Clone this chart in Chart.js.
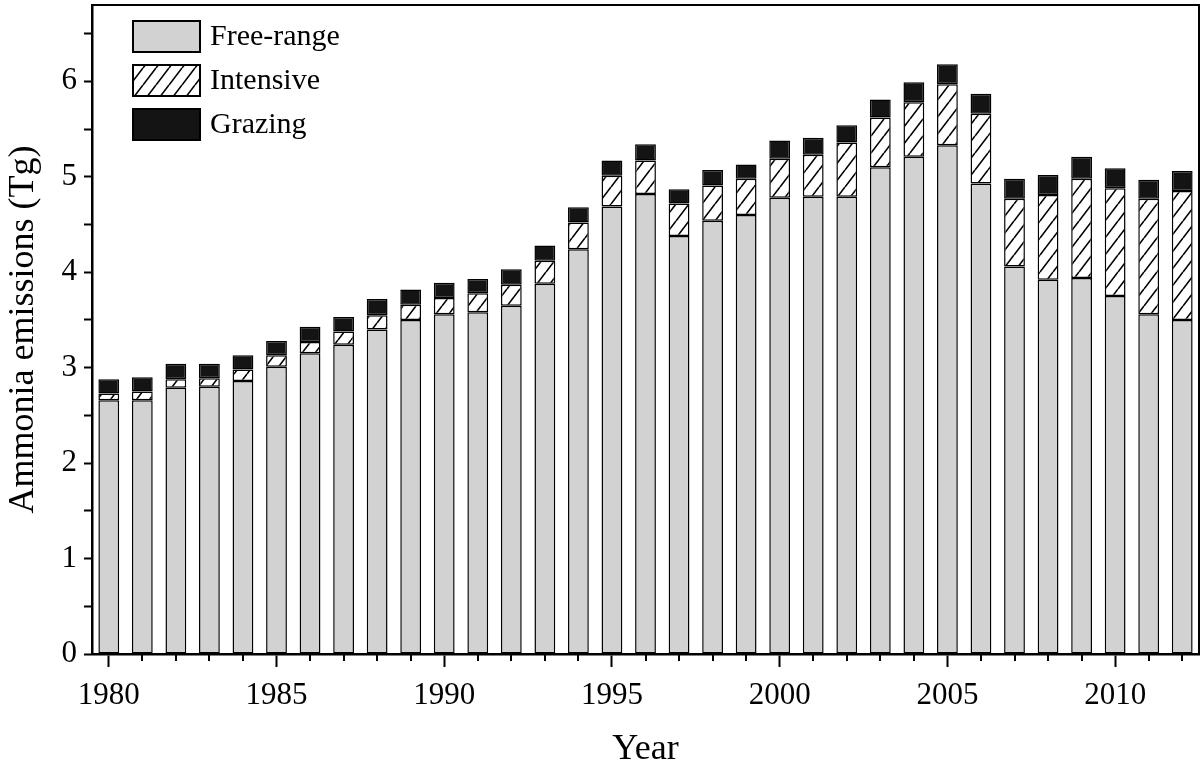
<!DOCTYPE html>
<html>
<head>
<meta charset="utf-8">
<script src="https://cdn.jsdelivr.net/npm/chart.js@4.4.0/dist/chart.umd.min.js"></script>
<style>
  body { margin: 0; background: #fff; }
  canvas { display: block; }
</style>
</head>
<body>
<canvas id="chart1" width="1204" height="771"></canvas>
<script>
// --- data (Tg) ---
const years = [1980, 1981, 1982, 1983, 1984, 1985, 1986, 1987, 1988, 1989,
    1990, 1991, 1992, 1993, 1994, 1995, 1996, 1997, 1998, 1999,
    2000, 2001, 2002, 2003, 2004, 2005, 2006, 2007, 2008, 2009,
    2010, 2011, 2012];

const freeRange = [2.66, 2.66, 2.79, 2.80, 2.86, 3.01, 3.15, 3.24, 3.40, 3.50,
    3.56, 3.58, 3.65, 3.88, 4.24, 4.69, 4.82, 4.38, 4.54, 4.60,
    4.78, 4.79, 4.79, 5.10, 5.21, 5.33, 4.93, 4.06, 3.92, 3.94,
    3.75, 3.56, 3.50];

const intensive = [0.07, 0.09, 0.09, 0.09, 0.12, 0.12, 0.12, 0.14, 0.15, 0.16,
    0.17, 0.20, 0.22, 0.24, 0.28, 0.32, 0.35, 0.34, 0.37, 0.38,
    0.41, 0.44, 0.57, 0.52, 0.57, 0.64, 0.73, 0.71, 0.89, 1.04,
    1.13, 1.21, 1.35];

const grazing = [0.15, 0.15, 0.16, 0.15, 0.15, 0.15, 0.16, 0.15, 0.17, 0.16,
    0.16, 0.15, 0.16, 0.16, 0.16, 0.16, 0.17, 0.15, 0.16, 0.15,
    0.19, 0.18, 0.18, 0.19, 0.21, 0.21, 0.21, 0.21, 0.21, 0.23,
    0.21, 0.20, 0.21];

const seriesNames = ['Free-range', 'Intensive', 'Grazing'];

const serif = "'Liberation Serif', 'Times New Roman', serif";

// hatch fill for the intensive part
function makeHatch() {
    const w = 13, h = 17;
    const c = document.createElement('canvas');
    c.width = w;
    c.height = h;
    const g = c.getContext('2d');
    g.fillStyle = '#fff';
    g.fillRect(0, 0, w, h);
    g.strokeStyle = '#000';
    g.lineWidth = 1.6;
    g.beginPath();
    for (let k = -1; k <= 1; k++) {
        g.moveTo(k * w, h);
        g.lineTo((k + 1) * w, 0);
    }
    g.stroke();
    return g.createPattern(c, 'repeat');
}
const hatch = makeHatch();

// frame, minor x ticks and the legend inside the plot
const extras = {
    id: 'extras',
    afterDraw(chart) {
        const c = chart.ctx;
        const a = chart.chartArea;
        c.save();
        c.strokeStyle = '#000';
        c.lineWidth = 2;
        c.beginPath();
        c.moveTo(a.left, a.top);
        c.lineTo(a.right, a.top);
        c.lineTo(a.right, a.bottom);
        c.stroke();

        const xs = chart.scales.x;
        c.lineWidth = 2;
        c.beginPath();
        years.forEach((y, i) => {
            if (y % 5 !== 0) {
                const px = Math.round(xs.getPixelForValue(i));
                c.moveTo(px, a.bottom);
                c.lineTo(px, a.bottom + 7);
            }
        });
        c.stroke();

        chart.data.datasets.forEach((ds, i) => {
            const bx = 133, by = 21 + i * 44, bw = 67, bh = 31;
            c.fillStyle = ds.backgroundColor;
            c.fillRect(bx, by, bw, bh);
            c.lineWidth = 2;
            c.strokeStyle = '#000';
            c.strokeRect(bx, by, bw, bh);
            c.fillStyle = '#000';
            c.font = '30px ' + serif;
            c.textBaseline = 'middle';
            c.textAlign = 'left';
            c.fillText(ds.label, bx + bw + 10, by + bh / 2 + 1);
        });
        c.restore();
    }
};

const ctx1 = document.getElementById('chart1').getContext('2d');

const data1 = {
    labels: years.map(String),
    datasets: [
        {
            label: seriesNames[0],
            data: freeRange,
            backgroundColor: '#d2d2d2',
            borderColor: '#000',
            borderWidth: 1.5,
            borderSkipped: false
        },
        {
            label: seriesNames[1],
            data: intensive,
            backgroundColor: hatch,
            borderColor: '#000',
            borderWidth: 1.5,
            borderSkipped: false
        },
        {
            label: seriesNames[2],
            data: grazing,
            backgroundColor: '#141414',
            borderColor: '#000',
            borderWidth: 1.5,
            borderSkipped: false
        }
    ]
};

const config1 = {
    type: 'bar',
    data: data1,
    options: {
        animation: false,
        responsive: false,
        devicePixelRatio: 1,
        layout: { padding: { top: 5, right: 5, left: 0, bottom: 0 } },
        datasets: { bar: { categoryPercentage: 1, barPercentage: 0.62 } },
        plugins: {
            legend: { display: false },
            tooltip: { enabled: false }
        },
        scales: {
            x: {
                stacked: true,
                afterFit: (s) => { s.height = 117; s.paddingLeft = 0; s.paddingRight = 0; },
                border: { color: '#000', width: 2.5 },
                grid: {
                    offset: false,
                    drawOnChartArea: false,
                    tickLength: 13,
                    tickWidth: 2,
                    tickColor: (c) => (years[c.index] % 5 === 0 ? '#000' : 'rgba(0,0,0,0)')
                },
                ticks: {
                    autoSkip: false,
                    maxRotation: 0,
                    color: '#000',
                    padding: 10,
                    font: { family: serif, size: 31 },
                    callback: (v, i) => (years[i] % 5 === 0 ? String(years[i]) : '')
                },
                title: {
                    display: true,
                    text: 'Year',
                    color: '#000',
                    padding: { top: 0, bottom: 0 },
                    font: { family: serif, size: 36 }
                }
            },
            y: {
                stacked: true,
                min: 0,
                max: 6.8,
                afterFit: (s) => { s.width = 92; s.paddingTop = 0; s.paddingBottom = 0; },
                border: { color: '#000', width: 2.5 },
                grid: {
                    drawOnChartArea: false,
                    tickLength: 8,
                    tickWidth: 2,
                    tickColor: '#000'
                },
                ticks: {
                    stepSize: 0.5,
                    includeBounds: false,
                    color: '#000',
                    padding: 7,
                    font: { family: serif, size: 31 },
                    callback: (v) => (Math.abs(v - Math.round(v)) < 1e-6 ? String(Math.round(v)) : '')
                },
                title: {
                    display: true,
                    text: 'Ammonia emissions (Tg)',
                    color: '#000',
                    padding: { top: 2, bottom: 0 },
                    font: { family: serif, size: 36 }
                }
            }
        }
    },
    plugins: [extras]
};

const chart1 = new Chart(ctx1, config1);
</script>
</body>
</html>
